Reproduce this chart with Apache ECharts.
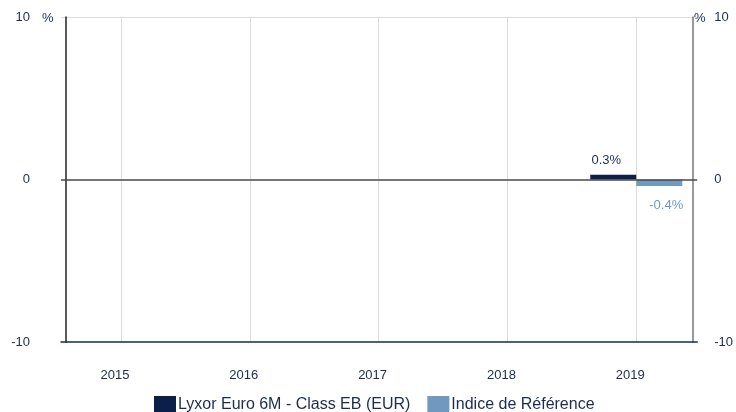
<!DOCTYPE html>
<html>
<head>
<meta charset="utf-8">
<script src="https://cdn.jsdelivr.net/npm/echarts@6/dist/echarts.min.js"></script>
<style>
  html, body { margin: 0; padding: 0; background: #fff; }
  #chart { width: 736px; height: 412px; }
</style>
</head>
<body>
<div id="chart"></div>
<script>
const years = [2015, 2016, 2017, 2018, 2019];
const fundValues = [null, null, null, null, 0.3];
const indexValues = [null, null, null, null, -0.4];
const seriesNames = ['Lyxor Euro 6M - Class EB (EUR)', 'Indice de Référence'];
const yTicks = [-10, 0, 10];

const navy = '#0c1f48';
const lightBlue = '#7199c0';
const textColor = '#1d2b52';

function toPoints(values) {
    return years.map((y, i) => [y, values[i]]).filter(p => p[1] !== null);
}

const myChart = echarts.init(document.getElementById('chart'));

const option = {
    animation: false,
    textStyle: { fontFamily: 'Liberation Sans, Arial, sans-serif' },
    grid: { left: 61, right: 38, top: 17, bottom: 70 },
    legend: {
        bottom: -6,
        left: 149,
        itemWidth: 22,
        itemHeight: 17,
        itemGap: 17,
        icon: 'rect',
        textStyle: { fontSize: 16, color: textColor, padding: [0, 0, 0, -3] },
        data: seriesNames
    },
    xAxis: {
        type: 'value',
        min: 2014.535,
        max: 2019.473,
        axisLine: { show: true, onZero: false, lineStyle: { color: '#1b2a55', width: 1.5 } },
        axisTick: { show: false },
        axisLabel: {
            color: textColor,
            fontSize: 13,
            margin: 27,
            padding: [0, 12, 0, 0],
            showMinLabel: false,
            showMaxLabel: false,
            formatter: v => (Number.isInteger(v) && years.includes(v)) ? String(v) : ''
        },
        splitLine: { show: true, showMinLine: false, showMaxLine: false, lineStyle: { color: '#dcdcdc', width: 1 } }
    },
    yAxis: [
        {
            type: 'value',
            position: 'left',
            min: yTicks[0],
            max: yTicks[2],
            interval: 10,
            offset: -5,
            axisLine: { show: true, lineStyle: { color: '#222', width: 1.5 } },
            axisTick: { show: false },
            axisLabel: { color: textColor, fontSize: 13, margin: 36 },
            splitLine: { show: true, lineStyle: { color: ['transparent', 'transparent', '#dcdcdc'] } }
        },
        {
            type: 'value',
            position: 'right',
            min: yTicks[0],
            max: yTicks[2],
            interval: 10,
            offset: -4,
            axisLine: { show: true, lineStyle: { color: '#777', width: 1.5 } },
            axisTick: { show: false },
            axisLabel: { color: textColor, fontSize: 13, margin: 21, align: 'left' },
            splitLine: { show: false }
        }
    ],
    graphic: [
        { type: 'text', left: 42, top: 12, style: { text: '%', fill: textColor, font: '13px Liberation Sans' } },
        { type: 'text', left: 694, top: 12, style: { text: '%', fill: textColor, font: '13px Liberation Sans' } }
    ],
    series: [
        {
            name: seriesNames[0],
            type: 'bar',
            barWidth: 46,
            barGap: '0%',
            itemStyle: { color: navy },
            label: {
                show: true,
                position: 'top',
                distance: 8,
                offset: [-7, 0],
                color: textColor,
                fontSize: 13,
                formatter: p => p.value[1] + '%'
            },
            markLine: {
                silent: true,
                symbol: 'none',
                label: { show: false },
                lineStyle: { color: '#4a4a4a', width: 1.5, type: 'solid' },
                data: [{ yAxis: 0 }]
            },
            data: toPoints(fundValues)
        },
        {
            name: seriesNames[1],
            type: 'bar',
            barWidth: 46,
            barGap: '0%',
            itemStyle: { color: lightBlue },
            label: {
                show: true,
                position: 'bottom',
                distance: 13,
                offset: [7, 0],
                color: lightBlue,
                fontSize: 13,
                formatter: p => p.value[1] + '%'
            },
            data: toPoints(indexValues)
        }
    ]
};

myChart.setOption(option);
</script>
</body>
</html>
